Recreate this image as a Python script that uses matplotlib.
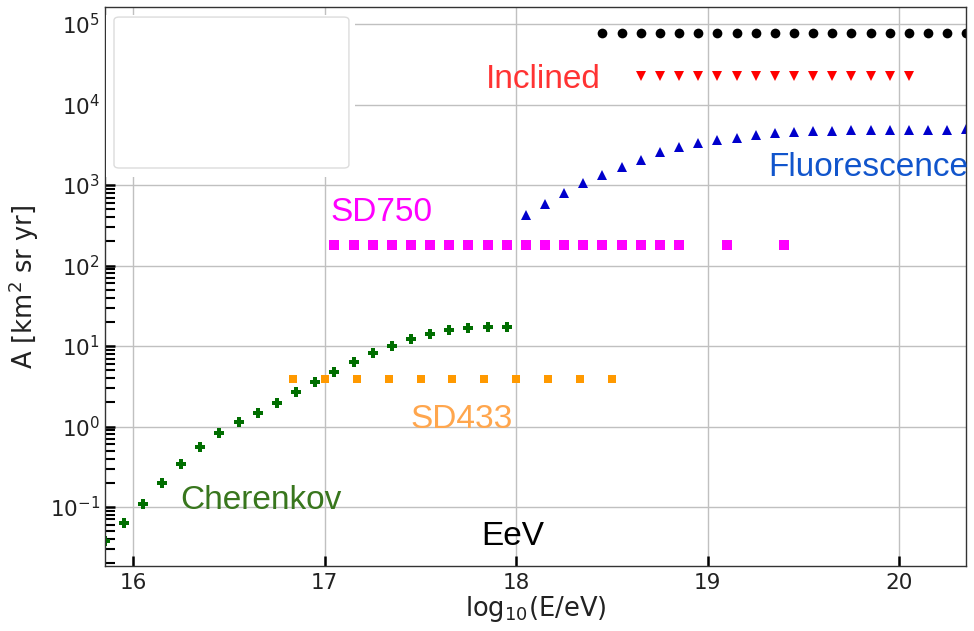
import matplotlib
matplotlib.use('Agg')
import matplotlib.pyplot as plt
import numpy as np
from matplotlib.patches import Rectangle, FancyBboxPatch
from matplotlib.ticker import LogLocator, NullFormatter

# exposure per detector, log10(E/eV) vs A [km^2 sr yr]
sd1500_x = np.arange(18.45, 20.36, 0.1)
sd1500_a = [7.7e4] * len(sd1500_x)

inclined_x = np.arange(18.65, 20.06, 0.1)
inclined_a = [2.26e4] * len(inclined_x)

fluo_x = np.arange(18.05, 20.36, 0.1)
fluo_a = [424, 586, 789, 1059, 1318, 1659, 2046, 2572, 2965, 3325, 3590, 3836,
          4143, 4388, 4518, 4650, 4728, 4784, 4868, 4868, 4868, 4868, 4868, 4965]

sd750_x = list(np.arange(17.05, 18.86, 0.1)) + [19.1, 19.4]
sd750_a = [178] * len(sd750_x)

sd433_x = 16.8333 + np.arange(11) / 6.0
sd433_a = [3.89] * len(sd433_x)

cher_x = np.arange(15.85, 17.96, 0.1)
cher_a = [0.0379, 0.0633, 0.109, 0.197, 0.342, 0.552, 0.824, 1.148, 1.484, 1.977,
          2.66, 3.61, 4.80, 6.28, 8.12, 10.0, 12.1, 14.1, 15.7, 16.9, 17.4, 17.4]

fig = plt.figure(figsize=(9.74, 6.31), dpi=100, facecolor='white')
ax = fig.add_axes([0.1083, 0.1030, 0.8835, 0.8859])

ax.plot(sd1500_x, sd1500_a, 'o', color='black', ms=7, mew=0)
ax.plot(inclined_x, inclined_a, 'v', color='#ff0000', ms=6.5, mew=0)
ax.plot(fluo_x, fluo_a, '^', color='#0000cc', ms=7, mew=0)
ax.plot(sd750_x, sd750_a, 's', color='#ff00ff', ms=7, mew=0)
ax.plot(sd433_x, sd433_a, 's', color='#ff9900', ms=5.5, mew=0)
ax.plot(cher_x, cher_a, 'P', color='#006e00', ms=7.5, mew=0)

ax.set_yscale('log')
ax.set_xlim(15.855, 20.348)
ax.set_ylim(0.0185, 1.63e5)
ax.set_xticks([16, 17, 18, 19, 20])
ax.yaxis.set_major_locator(LogLocator(base=10, numticks=12))
ax.yaxis.set_minor_locator(LogLocator(base=10, subs=np.arange(2, 10), numticks=12))
ax.yaxis.set_minor_formatter(NullFormatter())

ax.grid(True, which='major', color='#c0c0c0', lw=1.0)
ax.set_axisbelow(True)
ax.tick_params(which='both', direction='in', color='black', labelsize=15.5,
               labelcolor='#222222', top=False, right=False)
ax.tick_params(which='major', length=7, width=1.8)
ax.tick_params(which='minor', length=7, width=1.5)
ax.tick_params(axis='x', pad=5)
ax.tick_params(axis='y', pad=4)
for s in ax.spines.values():
    s.set_color('#333333')
    s.set_linewidth(1.0)

ax.set_xlabel('log$_{10}$(E/eV)', fontsize=18.5, color='#222222', labelpad=1)
ax.set_ylabel('A [km$^2$ sr yr]', fontsize=18.5, color='#222222', labelpad=6)

# blank box in the upper left corner
ax.add_patch(Rectangle((0.001, 0.696), 0.289, 0.29, transform=ax.transAxes,
                       facecolor='white', edgecolor='none', zorder=3))
ax.add_patch(FancyBboxPatch((0.0099, 0.712), 0.273, 0.270, transform=ax.transAxes,
                            boxstyle='round,pad=0,rounding_size=0.006',
                            facecolor='white', edgecolor='#dcdcdc', lw=1.0, zorder=3))

lab = dict(fontsize=24, family='Liberation Sans', ha='left', va='baseline')
ax.text(17.843, 1.59e4, 'Inclined', color='#ff3333', **lab)
ax.text(19.313, 1294, 'Fluorescence', color='#1155cc', **lab)
ax.text(17.031, 357, 'SD750', color='#ff00ff', **lab)
ax.text(17.449, 0.950, 'SD433', color='#ffa64d', **lab)
ax.text(16.244, 0.0936, 'Cherenkov', color='#38761d', **lab)
ax.text(17.817, 0.0337, 'EeV', color='black', **lab)

fig.savefig('out.png', dpi=100)
